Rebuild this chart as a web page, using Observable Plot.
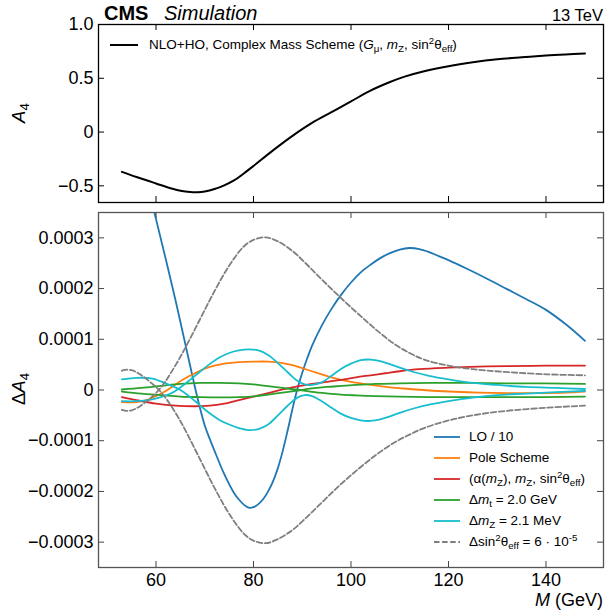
<!DOCTYPE html>
<html><head><meta charset="utf-8">
<script src="https://cdn.jsdelivr.net/npm/d3@7"></script>
<script src="https://cdn.jsdelivr.net/npm/@observablehq/plot@0.6"></script>
<style>
body{margin:0;background:#fff;}
#wrap{position:relative;width:605px;height:611px;font-family:"Liberation Sans",Arial,Helvetica,sans-serif;color:#000;overflow:hidden;}
#wrap svg{position:absolute;left:0;}
.t{position:absolute;white-space:nowrap;line-height:1;}
.sb{font-size:0.72em;position:relative;top:0.32em;line-height:0;}
.sp{font-size:0.72em;position:relative;top:-0.5em;line-height:0;}
.it{font-style:italic;}
.row{position:absolute;height:20px;white-space:nowrap;}
.row svg{position:absolute;left:0;top:0;}
.row span.lab{position:absolute;top:0;line-height:20px;font-size:13.5px;}
</style></head><body><div id="wrap"></div>
<script>
// ---------------- data ----------------
const UNIT = 1e-4; // bottom-panel values below are in units of 1e-4

// top panel: A4, NLO+HO complex mass scheme
const mNLO  = [53,56,60,63,65,67,68.5,70,72,74,76,78,80,84,88,92,96,100,104,108,111,115,120,125,130,135,140,144,148];
const a4NLO = [-0.37,-0.418,-0.478,-0.522,-0.545,-0.558,-0.56,-0.553,-0.53,-0.495,-0.45,-0.385,-0.315,-0.17,-0.035,0.085,0.185,0.285,0.385,0.465,0.515,0.565,0.612,0.648,0.676,0.695,0.712,0.722,0.73];

// LO / 10
const mLO = [53,56,58,60,62,64,66,68,69,70,71,72,74,76,77,78,79,80,81,82,83,84,85,86,87,88,89,90,91,92,94,96,98,100,102,104,106,108,110,112,114,116,118,120,124,128,132,136,140,144,148];
const dLO = [6.1,4.95,4.15,3.37,2.58,1.77,0.91,0.05,-0.35,-0.7,-0.96,-1.2,-1.66,-2.03,-2.16,-2.26,-2.32,-2.31,-2.25,-2.15,-2.0,-1.8,-1.54,-1.2,-0.8,-0.37,0.02,0.34,0.62,0.87,1.27,1.6,1.88,2.12,2.32,2.47,2.6,2.7,2.77,2.8,2.78,2.72,2.64,2.56,2.38,2.19,1.99,1.79,1.58,1.3,0.97];

// Pole scheme
const mPole = [53,56,58,60,62,64,66,68,70,72,74,77,80,83,86,88,90,92,94,96,98,100,102,104,108,112,116,120,126,132,138,144,148];
const dPole = [-0.24,-0.24,-0.2,-0.12,-0.02,0.11,0.23,0.33,0.42,0.48,0.52,0.55,0.56,0.56,0.53,0.49,0.43,0.37,0.31,0.25,0.2,0.16,0.13,0.1,0.05,0.02,-0.01,-0.03,-0.05,-0.06,-0.06,-0.05,-0.03];

// (alpha(mZ), mZ, sin2theta_eff)
const mAlpha = [53,56,60,64,68,71,74,77,80,83,86,89,92,95,98,101,104,107,110,114,120,126,132,140,148];
const dAlpha = [-0.14,-0.2,-0.27,-0.31,-0.32,-0.31,-0.27,-0.2,-0.13,-0.06,0.01,0.07,0.12,0.16,0.2,0.25,0.29,0.33,0.37,0.41,0.44,0.46,0.47,0.48,0.48];

// Delta m_t = 2.0 GeV (two variations)
const mTop = [53,57,61,65,69,73,77,80,83,86,89,92,95,98,101,105,110,116,124,132,140,148];
const dTopA = [0.01,0.04,0.08,0.12,0.14,0.14,0.13,0.11,0.075,0.04,0.005,-0.035,-0.065,-0.09,-0.105,-0.12,-0.13,-0.14,-0.14,-0.14,-0.14,-0.13];
const dTopB = [-0.03,-0.07,-0.1,-0.13,-0.14,-0.145,-0.14,-0.125,-0.09,-0.05,-0.01,0.03,0.06,0.08,0.1,0.12,0.13,0.14,0.14,0.13,0.13,0.12];

// Delta m_Z = 2.1 MeV (two variations)
const mZv = [53,56,59,61,63,65,67,69,71,73,75,77,79,81,83,85,87,89,90.5,92,94,96,98,100,102,104,106,108,110,113,116,120,125,130,136,142,148];
const dZA = [-0.22,-0.22,-0.19,-0.14,-0.07,0.05,0.2,0.36,0.51,0.64,0.73,0.78,0.8,0.78,0.69,0.53,0.35,0.18,0.11,0.1,0.15,0.28,0.42,0.52,0.59,0.6,0.57,0.51,0.44,0.35,0.28,0.21,0.14,0.1,0.06,0.04,0.02];
const dZB = [0.21,0.24,0.23,0.17,0.09,0.0,-0.14,-0.3,-0.46,-0.59,-0.68,-0.75,-0.79,-0.77,-0.68,-0.5,-0.31,-0.15,-0.1,-0.12,-0.22,-0.35,-0.47,-0.55,-0.6,-0.61,-0.58,-0.52,-0.45,-0.36,-0.29,-0.22,-0.15,-0.1,-0.07,-0.04,-0.02];

// Delta sin2theta_eff = 6e-5 (two variations)
const mSin = [53,54,55,56,57,58,59,60,61,62,63,64.5,66,69,72,75,78,80,82.5,85,88,91,94,97,100,103,106,109,112,115,120,125,131,140,148];
const dSinA = [-0.39,-0.41,-0.4,-0.36,-0.3,-0.23,-0.15,-0.06,0.05,0.18,0.33,0.57,0.83,1.39,1.95,2.45,2.83,2.96,3.01,2.93,2.74,2.47,2.18,1.9,1.63,1.37,1.12,0.9,0.73,0.6,0.48,0.41,0.36,0.31,0.29];
const dSinB = [0.38,0.4,0.39,0.35,0.29,0.22,0.14,0.06,-0.04,-0.16,-0.3,-0.53,-0.79,-1.36,-1.93,-2.44,-2.83,-2.97,-3.02,-2.94,-2.76,-2.5,-2.22,-1.94,-1.68,-1.44,-1.22,-1.03,-0.88,-0.75,-0.6,-0.5,-0.42,-0.35,-0.31];

// axes
const xDomain = [48.2, 151.8];
const xTicks = [60, 80, 100, 120, 140];
const xTickLabels = ["60", "80", "100", "120", "140"];
const yTopDomain = [-0.655, 1.0];
const yTopTicks = [-0.5, 0, 0.5, 1.0];
const yTopLabels = ["\u22120.5", "0", "0.5", "1.0"];
const yBotDomain = [-0.00035, 0.00035];
const yBotTicks = [-0.0003, -0.0002, -0.0001, 0, 0.0001, 0.0002, 0.0003];
const yBotLabels = ["\u22120.0003", "\u22120.0002", "\u22120.0001", "0", "0.0001", "0.0002", "0.0003"];

// colours
const C = {lo:"#1f77b4", pole:"#ff7f0e", alpha:"#d62728", mt:"#2ca02c", mz:"#17becf", sin:"#7f7f7f"};

// ---------------- layout ----------------
const W = 605, ML = 98, MR = 2;
const frameW = W - ML - MR;
const FONT = '"Liberation Sans", Arial, Helvetica, sans-serif';
const wrap = document.getElementById("wrap");

const rows = (ms, vs, k = 1) => ms.map((m, i) => ({m, v: vs[i] * k}));
const mapOf = (ks, ls) => new Map(ks.map((k, i) => [k, ls[i]]));

function frameTicks(fH, stroke) {
  return [
    Plot.tickX(xTicks, {x: d => d, insetBottom: fH - 6, stroke, strokeWidth: 1}),
    Plot.tickX(xTicks, {x: d => d, insetTop: fH - 6, stroke, strokeWidth: 1}),
  ];
}
function yTicksMarks(ticks, stroke) {
  return [
    Plot.tickY(ticks, {y: d => d, insetRight: frameW - 6, stroke, strokeWidth: 1}),
    Plot.tickY(ticks, {y: d => d, insetLeft: frameW - 6, stroke, strokeWidth: 1}),
  ];
}
const lineOpts = (stroke, extra = {}) => ({x: "m", y: "v", stroke, strokeWidth: 1.8, curve: "catmull-rom", ...extra});

// top panel
const topH = 206, topMT = 24, topMB = 4;
const topFH = topH - topMT - topMB;
const topLab = mapOf(yTopTicks, yTopLabels);
const topPlot = Plot.plot({
  width: W, height: topH, marginLeft: ML, marginRight: MR, marginTop: topMT, marginBottom: topMB,
  x: {domain: xDomain, axis: null},
  y: {domain: yTopDomain},
  style: {fontFamily: FONT, fontSize: "18px", background: "transparent", color: "#000", overflow: "visible"},
  marks: [
    Plot.line(rows(mNLO, a4NLO), lineOpts("#000", {strokeWidth: 2})),
    ...frameTicks(topFH, "#000"),
    ...yTicksMarks(yTopTicks, "#000"),
    Plot.axisY(yTopTicks, {tickSize: 0, tickPadding: 5, tickFormat: d => topLab.get(d), label: null, fontSize: 18}),
    Plot.frame({stroke: "#000", strokeWidth: 1.3})
  ]
});
topPlot.style.top = "0px";
wrap.appendChild(topPlot);

// bottom panel
const botTop = 206, botH = 405, botMT = 6, botMB = 44;
const botFH = botH - botMT - botMB;
const botLab = mapOf(yBotTicks, yBotLabels);
const xLab = mapOf(xTicks, xTickLabels);
const dash = "5.5,2.6";
const botPlot = Plot.plot({
  width: W, height: botH, marginLeft: ML, marginRight: MR, marginTop: botMT, marginBottom: botMB,
  x: {domain: xDomain},
  y: {domain: yBotDomain},
  style: {fontFamily: FONT, fontSize: "18px", background: "transparent", color: "#000", overflow: "visible"},
  marks: [
    Plot.line(rows(mLO, dLO, UNIT), lineOpts(C.lo, {clip: true})),
    Plot.line(rows(mPole, dPole, UNIT), lineOpts(C.pole)),
    Plot.line(rows(mAlpha, dAlpha, UNIT), lineOpts(C.alpha)),
    Plot.line(rows(mTop, dTopA, UNIT), lineOpts(C.mt)),
    Plot.line(rows(mTop, dTopB, UNIT), lineOpts(C.mt)),
    Plot.line(rows(mZv, dZA, UNIT), lineOpts(C.mz)),
    Plot.line(rows(mZv, dZB, UNIT), lineOpts(C.mz)),
    Plot.line(rows(mSin, dSinA, UNIT), lineOpts(C.sin, {strokeDasharray: dash})),
    Plot.line(rows(mSin, dSinB, UNIT), lineOpts(C.sin, {strokeDasharray: dash})),
    ...frameTicks(botFH, "#444"),
    ...yTicksMarks(yBotTicks, "#444"),
    Plot.axisY(yBotTicks, {tickSize: 0, tickPadding: 5, tickFormat: d => botLab.get(d), label: null, fontSize: 18}),
    Plot.axisX(xTicks, {tickSize: 0, tickPadding: 6, tickFormat: d => xLab.get(d), label: null, fontSize: 18}),
    Plot.frame({stroke: "#555", strokeWidth: 1.3})
  ]
});
botPlot.style.top = botTop + "px";
wrap.appendChild(botPlot);

// ---------------- texts (header, axis titles, legends) ----------------
function txt(html, opts) {
  const d = document.createElement("div");
  d.className = "t";
  d.innerHTML = html;
  const fs = opts.fs;
  d.style.fontSize = fs + "px";
  d.style.top = (opts.baseline - 0.8465 * fs) + "px";
  if (opts.left != null) d.style.left = opts.left + "px";
  if (opts.right != null) d.style.right = opts.right + "px";
  if (opts.weight) d.style.fontWeight = opts.weight;
  if (opts.italic) d.style.fontStyle = "italic";
  wrap.appendChild(d);
  return d;
}
function rotTxt(html, cx, cy, fs) {
  const d = document.createElement("div");
  d.className = "t";
  d.innerHTML = html;
  d.style.fontSize = fs + "px";
  d.style.left = cx + "px";
  d.style.top = cy + "px";
  d.style.transform = "translate(-50%,-50%) rotate(-90deg)";
  wrap.appendChild(d);
}
txt("CMS", {left: 104, baseline: 20, fs: 20, weight: "bold"});
txt("Simulation", {left: 164, baseline: 20, fs: 20, italic: true});
txt("13 TeV", {right: 2, baseline: 20.5, fs: 16.5});
txt('<span class="it">M</span> (GeV)', {right: 2, baseline: 606, fs: 18});
rotTxt('<span class="it">A</span><span class="sb">4</span>', 19, 113, 18.5);
rotTxt('\u0394<span class="it">A</span><span class="sb">4</span>', 19, 389, 18.5);

function legendRow(x, yc, lineW, gap, color, dsh, html) {
  const r = document.createElement("div");
  r.className = "row";
  r.style.left = x + "px";
  r.style.top = (yc - 10) + "px";
  r.innerHTML = `<svg width="${lineW}" height="20"><line x1="0" x2="${lineW}" y1="10" y2="10" stroke="${color}" stroke-width="${color === '#000' ? 2 : 1.8}" ${dsh ? 'stroke-dasharray="' + dsh + '"' : ''}/></svg><span class="lab" style="left:${lineW + gap}px">${html}</span>`;
  wrap.appendChild(r);
}
legendRow(110, 45, 28, 11, "#000", null,
  'NLO+HO, Complex Mass Scheme (<span class="it">G</span><span class="sb">\u03bc</span>, <span class="it">m</span><span class="sb">Z</span>, sin<span class="sp">2</span>\u03b8<span class="sb">eff</span>)');

const legendItems = [
  {c: C.lo, dash: null, h: "LO / 10"},
  {c: C.pole, dash: null, h: "Pole Scheme"},
  {c: C.alpha, dash: null, h: '(\u03b1(<span class="it">m</span><span class="sb">Z</span>), <span class="it">m</span><span class="sb">Z</span>, sin<span class="sp">2</span>\u03b8<span class="sb">eff</span>)'},
  {c: C.mt, dash: null, h: '\u0394<span class="it">m</span><span class="sb">t</span> = 2.0 GeV'},
  {c: C.mz, dash: null, h: '\u0394<span class="it">m</span><span class="sb">Z</span> = 2.1 MeV'},
  {c: C.sin, dash: dash, h: '\u0394sin<span class="sp">2</span>\u03b8<span class="sb">eff</span> = 6 \u00b7 10<span class="sp">-5</span>'}
];
legendItems.forEach((it, i) => legendRow(434, 437.3 + i * 20.9, 26, 9, it.c, it.dash, it.h));
</script>
</body></html>
